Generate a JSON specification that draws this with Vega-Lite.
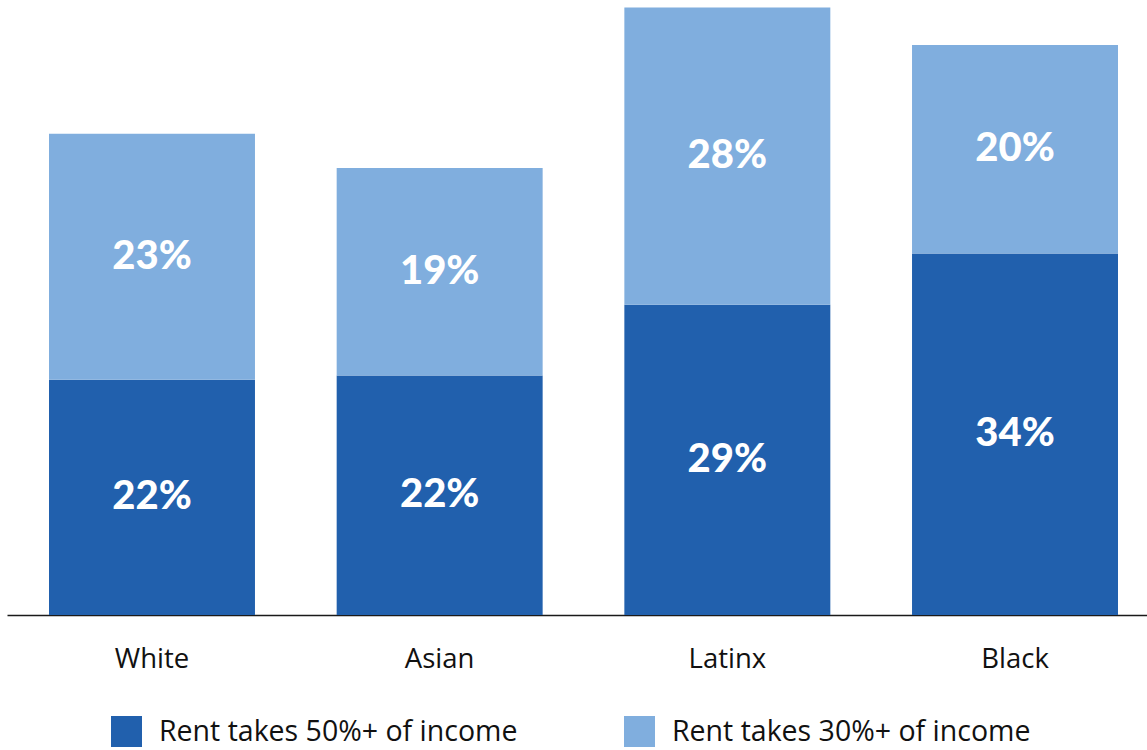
{
  "$schema": "https://vega.github.io/schema/vega-lite/v6.json",
  "width": 1153,
  "height": 615,
  "autosize": {"type": "none"},
  "padding": {"left": 7, "top": 0, "right": 0, "bottom": 135},
  "config": {"view": {"stroke": null}, "font": "Open Sans"},
  "data": {
    "values": [
      {"race": "White", "group": "Rent takes 50%+ of income", "value": 0.220},
      {"race": "White", "group": "Rent takes 30%+ of income", "value": 0.230},
      {"race": "Asian", "group": "Rent takes 50%+ of income", "value": 0.224},
      {"race": "Asian", "group": "Rent takes 30%+ of income", "value": 0.194},
      {"race": "Latinx", "group": "Rent takes 50%+ of income", "value": 0.290},
      {"race": "Latinx", "group": "Rent takes 30%+ of income", "value": 0.278},
      {"race": "Black", "group": "Rent takes 50%+ of income", "value": 0.338},
      {"race": "Black", "group": "Rent takes 30%+ of income", "value": 0.195}
    ]
  },
  "transform": [
    {"stack": "value", "groupby": ["race"], "sort": [{"field": "group", "order": "descending"}], "as": ["v0", "v1"]},
    {"calculate": "(datum.v0 + datum.v1) / 2", "as": "mid"}
  ],
  "encoding": {
    "x": {
      "field": "race",
      "type": "nominal",
      "sort": ["White", "Asian", "Latinx", "Black"],
      "scale": {"paddingInner": 0.284, "paddingOuter": 0.146},
      "axis": {
        "title": null,
        "labelAngle": 0,
        "ticks": false,
        "domainColor": "#1a1a1a",
        "domainWidth": 1.5,
        "labelFontSize": 27.5,
        "labelColor": "#111111",
        "labelPadding": 30,
        "labelFont": "Open Sans"
      }
    }
  },
  "layer": [
    {
      "mark": {"type": "bar"},
      "encoding": {
        "y": {"field": "v0", "type": "quantitative", "scale": {"domain": [0, 0.575], "nice": false}, "axis": null},
        "y2": {"field": "v1"},
        "color": {
          "field": "group",
          "type": "nominal",
          "scale": {"domain": ["Rent takes 50%+ of income", "Rent takes 30%+ of income"], "range": ["#2160ad", "#80aede"]},
          "legend": {
            "title": null,
            "orient": "none",
            "legendX": 104,
            "legendY": 716,
            "direction": "horizontal",
            "symbolType": "square",
            "symbolSize": 961,
            "symbolStrokeWidth": 0,
            "symbolOpacity": 1,
            "labelFontSize": 28.5,
            "labelFont": "Open Sans",
            "labelOffset": 17,
            "columnPadding": 106,
            "padding": 0,
            "labelColor": "#111111",
            "labelLimit": 500
          }
        }
      }
    },
    {
      "mark": {"type": "text", "font": "Lato", "fontWeight": 900, "fontSize": 40, "color": "white", "baseline": "middle"},
      "encoding": {
        "y": {"field": "mid", "type": "quantitative"},
        "text": {"field": "value", "type": "quantitative", "format": ".0%"}
      }
    }
  ]
}
